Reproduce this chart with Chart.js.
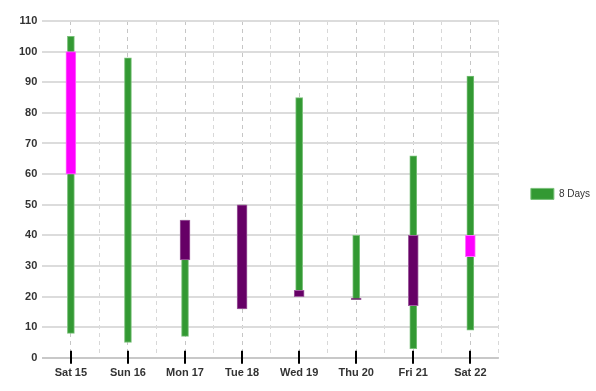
<!DOCTYPE html>
<html>
<head>
<meta charset="utf-8">
<script src="https://cdn.jsdelivr.net/npm/chart.js@4/dist/chart.umd.min.js"></script>
<style>
  html, body { margin: 0; padding: 0; background: #fff; }
  #wrap { width: 596px; height: 391px; }
</style>
</head>
<body>
<div id="wrap"><canvas id="chart" width="596" height="391"></canvas></div>
<script>
// data
const days = ['Sat 15', 'Sun 16', 'Mon 17', 'Tue 18', 'Wed 19', 'Thu 20', 'Fri 21', 'Sat 22'];
const lows  = [8, 5, 7, 16, 20, 19, 3, 9];
const highs = [105, 98, 45, 50, 85, 40, 66, 92];
const opens  = [60, 90, 45, 50, 22, 19.5, 40, 33];
const closes = [100, 90, 32, 16, 20, 19, 17, 40];
const yTicks = [0, 10, 20, 30, 40, 50, 60, 70, 80, 90, 100, 110];

const UP = '#ff00ff', UP_EDGE = '#ff70ff';
const DOWN = '#660066', DOWN_EDGE = '#a060a0';
const GREEN = '#339933', GREEN_EDGE = '#79c079';

const wick = days.map((d, i) => [lows[i], highs[i]]);
const body = days.map((d, i) => [Math.min(opens[i], closes[i]), Math.max(opens[i], closes[i])]);
const bodyColor = days.map((d, i) => closes[i] >= opens[i] ? UP : DOWN);
const bodyEdge = days.map((d, i) => closes[i] >= opens[i] ? UP_EDGE : DOWN_EDGE);

// black tick marks crossing the x axis
const tickMarks = {
    id: 'tickMarks',
    afterDatasetsDraw(chart) {
        const ctx = chart.ctx;
        const x = chart.scales.x;
        const y0 = chart.chartArea.bottom;
        ctx.save();
        ctx.strokeStyle = '#000';
        ctx.lineWidth = 2;
        days.forEach((d, i) => {
            const px = Math.round(x.getPixelForTick(i));
            ctx.beginPath();
            ctx.moveTo(px, y0 - 7);
            ctx.lineTo(px, y0 + 6);
            ctx.stroke();
        });
        ctx.restore();
    }
};

const font = { family: 'Liberation Sans, Arial, sans-serif', size: 11, weight: 'bold' };

new Chart(document.getElementById('chart'), {
    type: 'bar',
    data: {
        labels: days,
        datasets: [
            {
                label: 'body',
                data: body,
                backgroundColor: bodyColor,
                borderColor: bodyEdge,
                borderWidth: 1,
                borderSkipped: false,
                barThickness: 10,
                grouped: false
            },
            {
                label: '8 Days',
                data: wick,
                backgroundColor: GREEN,
                borderColor: GREEN_EDGE,
                borderWidth: 1,
                borderSkipped: false,
                barThickness: 7,
                grouped: false
            }
        ]
    },
    options: {
        responsive: false,
        animation: false,
        layout: { padding: { top: 21, left: 14, right: -4, bottom: 2 } },
        plugins: {
            tooltip: { enabled: false },
            legend: {
                position: 'right',
                fullSize: false,
                title: { display: true, text: ' ', font: { size: 5 }, padding: { top: 3, bottom: 0 } },
                labels: {
                    filter: item => item.text === '8 Days',
                    boxWidth: 23,
                    boxHeight: 11,
                    padding: 32,
                    color: '#333',
                    font: { family: 'Liberation Sans, Arial, sans-serif', size: 10 }
                }
            }
        },
        scales: {
            x: {
                grid: { offset: false, color: '#c6c6c6', lineWidth: 1, drawTicks: false },
                border: { display: false, dash: [4, 4] },
                ticks: { color: '#333', font: font, padding: 9 }
            },
            x2: {
                position: 'bottom',
                labels: days,
                grid: {
                    offset: true,
                    color: ctx => (ctx.index === 0 || ctx.index === days.length) ? 'rgba(0,0,0,0)' : '#d8d8d8',
                    lineWidth: 1,
                    drawTicks: false
                },
                border: { display: false, dash: [4, 4] },
                ticks: { display: false }
            },
            y: {
                min: 0,
                max: 110,
                afterBuildTicks: axis => { axis.ticks = yTicks.map(v => ({ value: v })); },
                grid: {
                    color: ctx => ctx.tick && ctx.tick.value === 0 ? '#c8c8c8' : '#dcdcdc',
                    lineWidth: 2,
                    drawTicks: false
                },
                border: { display: false },
                ticks: { color: '#333', font: font, padding: 5 }
            }
        }
    },
    plugins: [tickMarks]
});
</script>
</body>
</html>
